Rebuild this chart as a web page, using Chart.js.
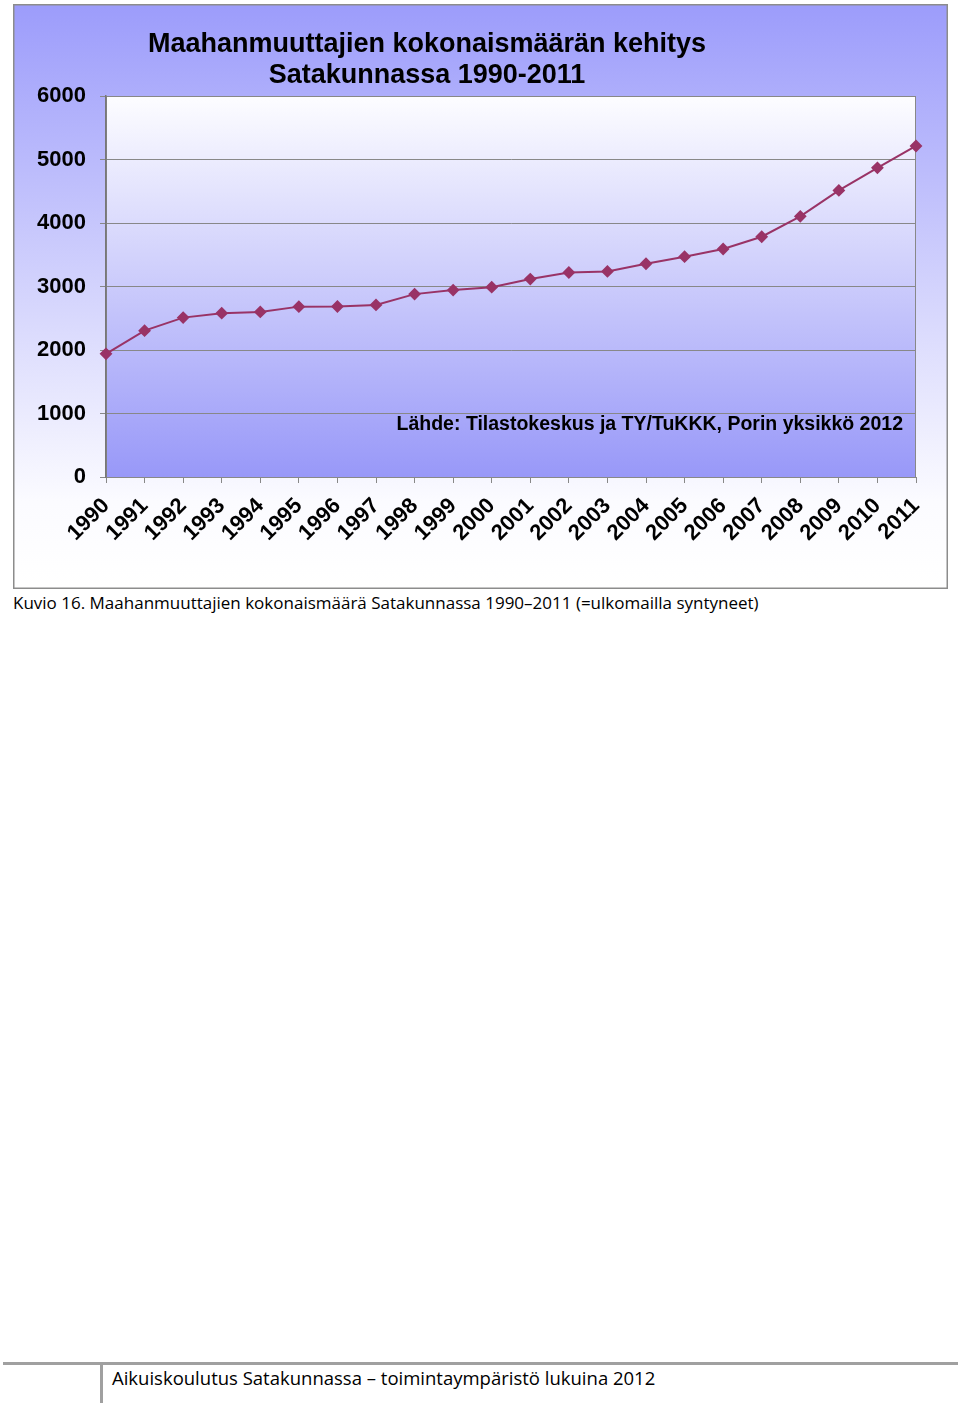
<!DOCTYPE html>
<html>
<head>
<meta charset="utf-8">
<script src="https://cdn.jsdelivr.net/npm/chart.js@4"></script>
<style>
  body { margin: 0; background: #fff; width: 960px; height: 1407px; position: relative; }
  #chartBox { position: absolute; left: 13px; top: 4px; width: 935px; height: 585px; }
  .caption { position: absolute; left: 13px; top: 591px; font-family: "Open Sans", sans-serif; font-size: 17px; color: #000; white-space: nowrap; }
  .footLine { position: absolute; left: 3px; top: 1362px; width: 955px; height: 3px; background: #a0a0a0; }
  .footBar { position: absolute; left: 100px; top: 1362px; width: 3px; height: 41px; background: #a0a0a0; }
  .footText { position: absolute; left: 112px; top: 1365px; font-family: "Open Sans", sans-serif; font-size: 18.5px; color: #000; white-space: nowrap; }
</style>
</head>
<body>
<div id="chartBox"><canvas id="chart" width="935" height="585"></canvas></div>
<div class="caption">Kuvio 16. Maahanmuuttajien kokonaismäärä Satakunnassa 1990–2011 (=ulkomailla syntyneet)</div>
<div class="footLine"></div>
<div class="footBar"></div>
<div class="footText">Aikuiskoulutus Satakunnassa – toimintaympäristö lukuina 2012</div>

<script>
// Data
const years = ["1990", "1991", "1992", "1993", "1994", "1995", "1996", "1997", "1998", "1999", "2000",
               "2001", "2002", "2003", "2004", "2005", "2006", "2007", "2008", "2009", "2010", "2011"];
const immigrants = [1940, 2305, 2510, 2580, 2600, 2683, 2685, 2710, 2880, 2943, 2990,
                    3117, 3221, 3237, 3358, 3470, 3590, 3784, 4105, 4513, 4869, 5213];
const yTicks = [0, 1000, 2000, 3000, 4000, 5000, 6000];

const titleLines = ["Maahanmuuttajien kokonaismäärän kehitys", "Satakunnassa 1990-2011"];
const sourceText = "Lähde: Tilastokeskus ja TY/TuKKK, Porin yksikkö 2012";

const boldFont = '"Liberation Sans", Arial, sans-serif';

// Backgrounds, borders and texts drawn on the canvas
const decorPlugin = {
    id: "decor",
    beforeDraw(chart) {
        const { ctx, width, height, chartArea: a } = chart;
        ctx.save();
        // outer background
        let g = ctx.createLinearGradient(0, 0, 0, height);
        g.addColorStop(0, "#9c9cfb");
        g.addColorStop(0.55, "#dadafd");
        g.addColorStop(0.85, "#fbfbff");
        g.addColorStop(1, "#ffffff");
        ctx.fillStyle = g;
        ctx.fillRect(0, 0, width, height);
        ctx.strokeStyle = "#8c8c8c";
        ctx.lineWidth = 1.5;
        ctx.strokeRect(0.75, 0.75, width - 1.5, height - 1.5);
        // plot area background
        g = ctx.createLinearGradient(0, a.top, 0, a.bottom);
        g.addColorStop(0, "#fdfdff");
        g.addColorStop(1, "#9898f8");
        ctx.fillStyle = g;
        ctx.fillRect(a.left, a.top, a.right - a.left, a.bottom - a.top);
        ctx.strokeStyle = "#888";
        ctx.lineWidth = 1;
        ctx.strokeRect(a.left + 0.5, a.top + 0.5, a.right - a.left - 1, a.bottom - a.top);
        ctx.restore();
    },
    afterDraw(chart) {
        const { ctx, chartArea: a } = chart;
        ctx.save();
        ctx.fillStyle = "#000";
        ctx.font = "bold 27px " + boldFont;
        ctx.textAlign = "center";
        ctx.textBaseline = "alphabetic";
        ctx.fillText(titleLines[0], a.left + 321, 48);
        ctx.fillText(titleLines[1], a.left + 321, 79);
        ctx.font = "bold 19.5px " + boldFont;
        ctx.textAlign = "right";
        ctx.fillText(sourceText, a.right - 13, a.bottom - 47);
        ctx.restore();
    }
};

new Chart(document.getElementById("chart"), {
    type: "line",
    data: {
        labels: years,
        datasets: [{
            label: "Maahanmuuttajat",
            data: immigrants,
            borderColor: "#993366",
            backgroundColor: "#993366",
            borderWidth: 2,
            pointStyle: "rectRot",
            pointRadius: 5,
            pointBackgroundColor: "#993366",
            pointBorderColor: "#993366",
            tension: 0,
        }],
    },
    options: {
        responsive: false,
        animation: false,
        events: [],
        layout: { padding: { top: 92, right: 32, left: 0, bottom: 0 } },
        plugins: {
            legend: { display: false },
            title: { display: false },
            tooltip: { enabled: false },
        },
        scales: {
            x: {
                offset: false,
                afterFit: scale => { scale.height = 112; },
                grid: { drawOnChartArea: false, drawTicks: true, tickLength: 6, color: "#888" },
                border: { display: true, color: "#888", width: 1 },
                ticks: {
                    autoSkip: false,
                    maxRotation: 45,
                    minRotation: 45,
                    padding: 10,
                    color: "#000",
                    font: { family: boldFont, size: 22, weight: "bold" },
                },
            },
            y: {
                min: 0,
                max: 6000,
                afterFit: scale => { scale.width = 93; },
                afterBuildTicks: scale => { scale.ticks = yTicks.map(v => ({ value: v })); },
                grid: { color: "#888", tickLength: 6, tickColor: "#888" },
                border: { display: true, color: "#777", width: 1.5 },
                ticks: {
                    padding: 14,
                    color: "#000",
                    callback: value => String(value),
                    font: { family: boldFont, size: 22, weight: "bold" },
                },
            },
        },
    },
    plugins: [decorPlugin],
});
</script>
</body>
</html>
